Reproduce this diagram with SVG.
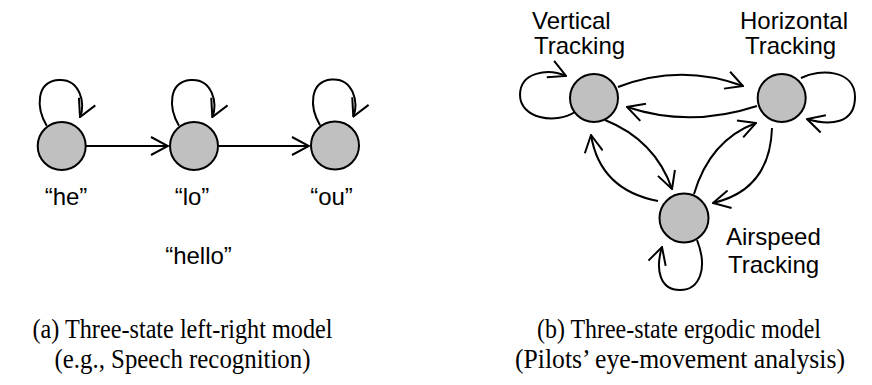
<svg xmlns="http://www.w3.org/2000/svg" width="872" height="385" viewBox="0 0 872 385">
<style>
.node{fill:#c0c0c0;stroke:#000;stroke-width:2}
.edge{fill:none;stroke:#000;stroke-width:2;marker-end:url(#arr)}
.lbl{font-family:"Liberation Sans",Arial,sans-serif;font-size:24px;fill:#000}
.cap{font-family:"Liberation Serif","Times New Roman",serif;font-size:27px;fill:#000;text-anchor:middle}
</style>
<defs>
<marker id="arr" markerUnits="userSpaceOnUse" viewBox="0 0 20 20" refX="19" refY="10" markerWidth="20" markerHeight="20" orient="auto">
<path d="M2,1 L19,10 L2,19" fill="none" stroke="#000" stroke-width="2"/>
</marker>
</defs>
<rect width="872" height="385" fill="#fff"/>
<g id="connectors">
<path class="edge" d="M86,146 L168,146"/>
<path class="edge" d="M218,146 L309,146"/>
<path class="edge" d="M46.7,125.7 C36,108 36,82 58,80 C80,78 86,104 80,117"/>
<path class="edge" transform="translate(132.3,0)" d="M46.7,125.7 C36,108 36,82 58,80 C80,78 86,104 80,117"/>
<path class="edge" transform="translate(273.3,-0.5)" d="M46.7,125.7 C36,108 36,82 58,80 C80,78 86,104 80,117"/>
<path class="edge" d="M575,112 C555,125 520,118 520,95 C520,72 548,68 566,76"/>
<path class="edge" d="M801,78 C820,68 855,70 855,97 C855,124 830,126 807,119"/>
<path class="edge" d="M618,87 Q680,63 743,86"/>
<path class="edge" d="M757,106 Q690,128 627,107"/>
<path class="edge" d="M605,120 Q655,140 672,189"/>
<path class="edge" d="M658,201 Q600,190 591,135"/>
<path class="edge" d="M694,194 Q710,140 756,123"/>
<path class="edge" d="M772,128 Q770,190 713,203"/>
<path class="edge" d="M697,240 C708,268 700,290 680,290 C660,290 655,270 662,247"/>
</g>
<g id="he"><circle class="node" cx="61.7" cy="146" r="24"/><text class="lbl" x="66" y="205" text-anchor="middle">“he”</text></g>
<g id="lo"><circle class="node" cx="194" cy="146" r="24"/><text class="lbl" x="192" y="205" text-anchor="middle">“lo”</text></g>
<g id="ou"><circle class="node" cx="335" cy="145.5" r="24"/><text class="lbl" x="331.5" y="205" text-anchor="middle">“ou”</text></g>
<text class="lbl" x="198.5" y="264" text-anchor="middle">“hello”</text>
<g id="vertical"><circle class="node" cx="594" cy="98" r="24"/><text class="lbl" x="532" y="29">Vertical</text><text class="lbl" x="534" y="54">Tracking</text></g>
<g id="horizontal"><circle class="node" cx="781.7" cy="98" r="24"/><text class="lbl" x="740" y="29">Horizontal</text><text class="lbl" x="745" y="54">Tracking</text></g>
<g id="airspeed"><circle class="node" cx="684" cy="218" r="24.5"/><text class="lbl" x="726" y="245">Airspeed</text><text class="lbl" x="728" y="273">Tracking</text></g>
<text class="cap" x="182.5" y="338" textLength="300" lengthAdjust="spacingAndGlyphs">(a) Three-state left-right model</text>
<text class="cap" x="182.5" y="368" textLength="256" lengthAdjust="spacingAndGlyphs">(e.g., Speech recognition)</text>
<text class="cap" x="679" y="338" textLength="284" lengthAdjust="spacingAndGlyphs">(b) Three-state ergodic model</text>
<text class="cap" x="680" y="368" textLength="330" lengthAdjust="spacingAndGlyphs">(Pilots’ eye-movement analysis)</text>
</svg>
